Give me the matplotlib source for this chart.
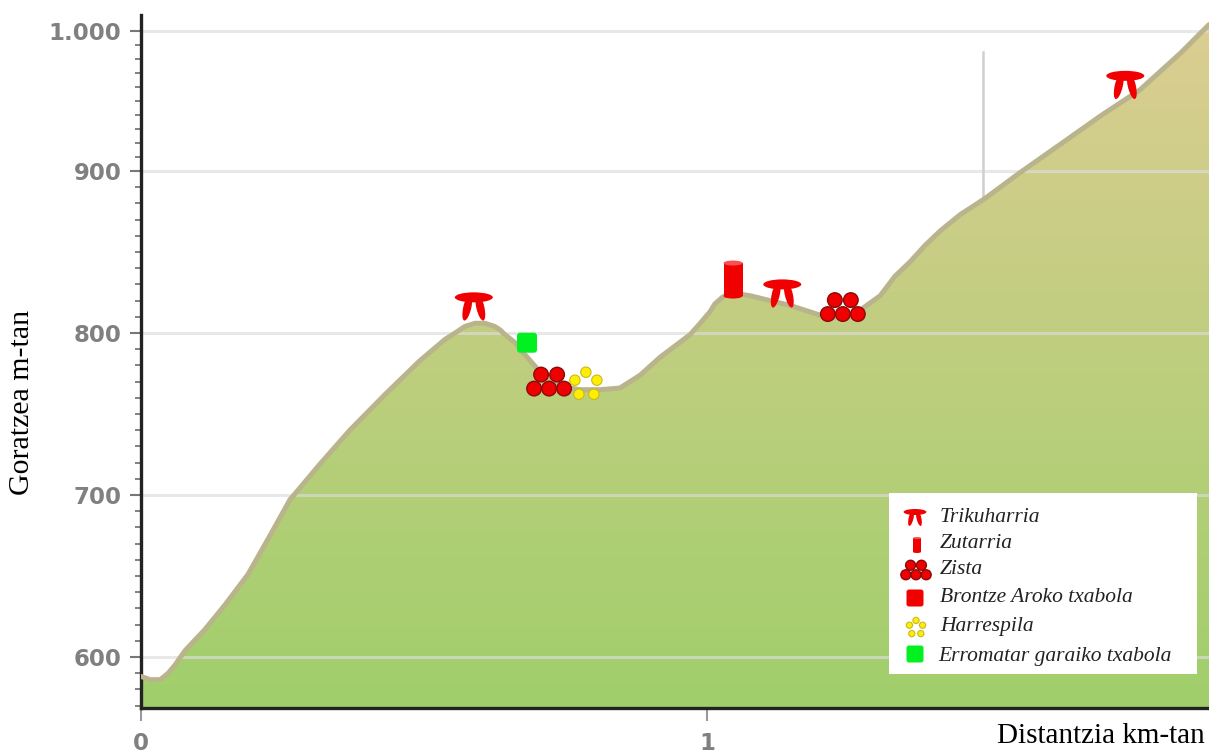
import numpy as np
import matplotlib
matplotlib.use("Agg")
import matplotlib.pyplot as plt
from matplotlib.colors import LinearSegmentedColormap
from matplotlib.patches import Ellipse, Circle, FancyBboxPatch, Polygon, Rectangle
from matplotlib.transforms import Affine2D

W, H = 1209, 754

# profile
distance_km = [0, .016, .034, .048, .060, .078, .113, .148, .189, .228, .263, .316, .369, .431,
               .493, .537, .555, .572, .590, .608, .625, .634, .643, .661, .670, .705, .723,
               .740, .758, .776, .811, .846, .864, .882, .917, .970, .988, 1.005, 1.014, 1.027,
               1.037, 1.058, 1.076, 1.147, 1.200, 1.217, 1.235, 1.253, 1.270, 1.306, 1.332,
               1.359, 1.385, 1.412, 1.447, 1.491, 1.553, 1.624, 1.694, 1.765, 1.836, 1.887]
elevation_m = [588, 586, 586, 590, 595, 604, 617, 632, 651, 675, 697, 719, 740, 762,
               783, 796, 800, 804, 806, 806, 804, 802, 799, 794, 790, 776, 772,
               768, 766, 765, 765, 766, 770, 774, 785, 799, 806, 813, 818, 822,
               824, 824, 823, 817, 811, 810, 810, 811, 814, 823, 835,
               844, 854, 863, 873, 883, 899, 919, 939, 958, 984, 1004]

y_ticks = [600, 700, 800, 900, 1000]
y_labels = ["600", "700", "800", "900", "1.000"]
y_minor = list(range(570, 1010, 10))
x_ticks = [0, 1]

# sites on the profile (km, m)
trikuharria = [(.588, 822), (1.133, 830), (1.739, 968)]
zutarria = [(1.046, 833)]
zista = [(.721, 770), (1.240, 816)]
harrespila = [(.786, 769)]
erromatar = [(.682, 794)]

legend_labels = ["Trikuharria", "Zutarria", "Zista", "Brontze Aroko txabola", "Harrespila",
                 "Erromatar garaiko txabola"]

# the y axis of the original is squeezed between 900 and 1000
y_anchor = [400, 900, 1000, 1200]
y_pos = [400, 900, 986.4, 1186.4]


def y_fwd(v):
    return np.interp(v, y_anchor, y_pos)


def y_inv(v):
    return np.interp(v, y_pos, y_anchor)


fig = plt.figure(figsize=(W / 100, H / 100), dpi=100)
ax = fig.add_axes([141 / W, 1 - 708 / H, (W - 141) / W, (708 - 15) / H])
ax.set_yscale("function", functions=(y_fwd, y_inv))

# gradient fill under the profile
cmap = LinearSegmentedColormap.from_list("ground", ["#a0cf6b", "#dccd92"])
grad = np.linspace(0, 1, 256).reshape(-1, 1)
im = ax.imshow(grad, cmap=cmap, origin="lower", extent=(0, 1, 0, 1), transform=ax.transAxes,
               aspect="auto", zorder=1)
area = Polygon(list(zip(distance_km, elevation_m)) + [(distance_km[-1], 500), (0, 500)],
               closed=True, facecolor="none", edgecolor="none", zorder=1)
ax.add_patch(area)
im.set_clip_path(area)
ax.set_xlim(0, (W - 141) / 566)
ax.set_ylim(568.5, 1009.9)

for v in y_ticks:
    ax.axhline(v, color="#dcdcdc", lw=2.2, alpha=0.65, zorder=2)
ax.plot(distance_km, elevation_m, color="#b9b48c", lw=3.6, solid_capstyle="round",
        solid_joinstyle="round", zorder=3)

# stray vertical mark in the original
ax.plot([1.488, 1.488], [883, 985], color="#cfcfcf", lw=1.8, zorder=2)

for s in ["top", "right"]:
    ax.spines[s].set_visible(False)
for s in ["left", "bottom"]:
    ax.spines[s].set_linewidth(2.4)
    ax.spines[s].set_color("#222222")

ax.set_yticks(y_ticks, y_labels)
ax.set_yticks(y_minor, minor=True)
ax.set_xticks(x_ticks, ["0", "1"])
ax.tick_params(axis="y", which="major", length=8, width=1.5, color="#777777", pad=6,
               labelsize=16.5, labelcolor="#808080")
ax.tick_params(axis="y", which="minor", length=4, width=1.3, color="#777777")
ax.tick_params(axis="x", which="major", length=9, width=1.5, color="#999999", pad=8,
               labelsize=16.5, labelcolor="#808080")
for t in ax.get_xticklabels() + ax.get_yticklabels():
    t.set_fontweight("bold")


def at(x, y):
    return Affine2D().translate(x, y)


def draw(p, x, y, z=6):
    p.set_transform(at(x, y))
    p.set_clip_on(False)
    p.set_zorder(z)
    ax.add_artist(p)


def dolmen(x, y, s=1.0, z=6):
    # x, y = middle of the cap stone, in pixels
    red = "#f00000"
    draw(Ellipse((0, 0), 38 * s, 10 * s, color=red, lw=0), x, y, z)
    draw(Ellipse((-6.5 * s, -10 * s), 8 * s, 27 * s, angle=-13, color=red, lw=0), x, y, z)
    draw(Ellipse((6.5 * s, -10 * s), 8 * s, 27 * s, angle=13, color=red, lw=0), x, y, z)


def standing_stone(x, y, s=1.0, z=6):
    w, h = 19 * s, 33 * s
    draw(Rectangle((-w / 2, -h / 2), w, h, color="#f00000", lw=0), x, y, z)
    draw(Ellipse((0, -h / 2), w, 5 * s, color="#f00000", lw=0), x, y, z)
    draw(Ellipse((0, h / 2), w, 5 * s, color="#f85050", lw=0), x, y, z)


def cairns(x, y, s=1.0, z=6):
    for dx, dy in [(-8, 7), (8, 7), (-15, -7), (0, -7), (15, -7)]:
        draw(Circle((dx * s, dy * s), 7.3 * s, facecolor="#f00000", edgecolor="#8a0a0a",
                    lw=1.0), x, y, z)


def stone_circle(x, y, s=1.0, z=6):
    for dx, dy in [(0, 11), (-11, 3), (11, 3), (-7, -11), (8, -11)]:
        draw(Circle((dx * s, dy * s), 5.2 * s, facecolor="#ffee00", edgecolor="#c8b820",
                    lw=0.8), x, y, z)


def hut(x, y, size, color, z=6):
    r = size * 0.15
    draw(FancyBboxPatch((-size / 2 + r, -size / 2 + r), size - 2 * r, size - 2 * r,
                        boxstyle=f"round,pad={r},rounding_size={r}", facecolor=color, lw=0),
         x, y, z)


# icons sit on the data through the axes transform
fig.canvas.draw()
to_px = ax.transData.transform
for d, e in trikuharria:
    dolmen(*to_px((d, e)))
for d, e in zutarria:
    standing_stone(*to_px((d, e)))
for d, e in zista:
    cairns(*to_px((d, e)))
for d, e in harrespila:
    stone_circle(*to_px((d, e)))
for d, e in erromatar:
    hut(*to_px((d, e)), 20, "#00f020")

# legend box, drawn by hand like the pasted one in the original
draw(Rectangle((889, H - 674), 308, 181, facecolor="white", lw=0), 0, 0, 8)
legend_y = [518, 544, 570, 598, 627, 657]
legend_x = [940, 940, 940, 940, 940, 938]
dolmen(915, H - 512, 0.6, 9)
standing_stone(917, H - 545, 0.42, 9)
cairns(916, H - 570, 0.68, 9)
hut(915, H - 598, 17, "#f00000", 9)
stone_circle(916, H - 627, 0.6, 9)
hut(915, H - 654, 17, "#00f020", 9)
for lab, lx, ly in zip(legend_labels, legend_x, legend_y):
    fig.text(lx / W, 1 - ly / H, lab, fontfamily="Liberation Serif", fontstyle="italic",
             fontsize=15.5, color="#222222", va="center", ha="left", zorder=10)

fig.text(22 / W, 1 - 402 / H, "Goratzea m-tan", rotation=90, fontfamily="Liberation Serif",
         fontsize=21.5, color="black", ha="center", va="center")
fig.text(1205 / W, 1 - 736 / H, "Distantzia km-tan", fontfamily="Liberation Serif",
         fontsize=21, color="black", ha="right", va="center")

fig.savefig("out.png", dpi=100)
